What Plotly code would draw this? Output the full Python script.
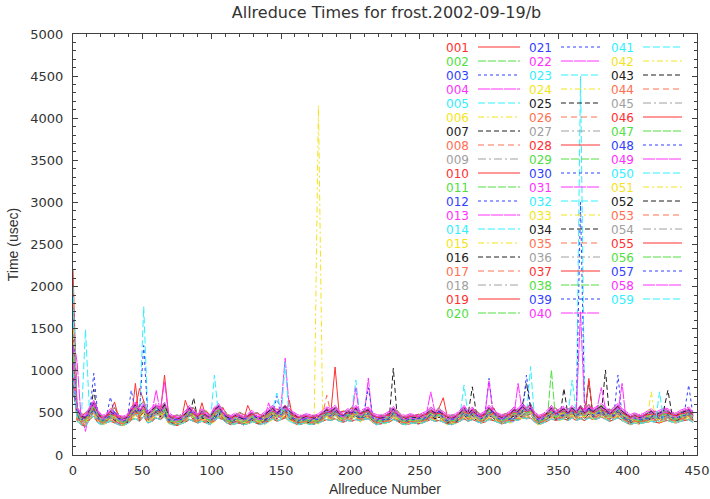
import plotly.graph_objects as go

# ---------------- data ----------------
# Allreduce numbers sampled every 3 steps
allreduce_number = list(range(0, 450, 3))

# three typical time profiles (usec) that the 59 processes follow
profile_a = [
    700, 520, 440, 430, 520, 600, 480, 420, 440, 500,
    460, 420, 410, 430, 520, 580, 500, 560, 470, 520,
    560, 500, 580, 450, 420, 410, 430, 470, 540, 470,
    440, 500, 450, 430, 520, 560, 480, 430, 420, 450,
    430, 410, 440, 480, 430, 420, 460, 500, 540, 480,
    520, 560, 500, 460, 430, 420, 440, 430, 420, 440,
    480, 520, 500, 540, 470, 450, 500, 480, 540, 470,
    500, 520, 450, 430, 420, 440, 470, 530, 460, 430,
    420, 440, 430, 420, 450, 470, 520, 480, 500, 460,
    430, 420, 440, 480, 540, 470, 520, 460, 440, 470,
    540, 490, 450, 430, 440, 470, 520, 500, 560, 520,
    540, 460, 420, 440, 480, 540, 470, 500, 530, 480,
    540, 490, 560, 480, 540, 500, 530, 560, 520, 470,
    520, 560, 500, 460, 430, 450, 430, 440, 470, 500,
    460, 480, 510, 500, 460, 450, 480, 500, 520, 460,
]
profile_b = [
    650, 470, 420, 460, 480, 540, 450, 410, 430, 470,
    520, 430, 400, 420, 480, 520, 530, 600, 440, 480,
    520, 540, 500, 420, 410, 430, 420, 450, 500, 520,
    430, 460, 480, 420, 440, 500, 520, 440, 410, 420,
    460, 440, 420, 430, 460, 440, 410, 440, 470, 500,
    480, 540, 460, 440, 410, 420, 430, 410, 430, 420,
    460, 500, 470, 520, 460, 480, 470, 520, 500, 440,
    480, 500, 440, 410, 430, 420, 440, 500, 480, 420,
    410, 430, 420, 440, 430, 450, 480, 460, 520, 440,
    410, 430, 420, 460, 500, 460, 500, 480, 430, 450,
    500, 520, 440, 420, 450, 430, 440, 500, 480, 520,
    560, 440, 410, 430, 460, 500, 520, 460, 480, 500,
    520, 470, 520, 500, 560, 470, 500, 520, 480, 500,
    470, 540, 460, 430, 410, 440, 420, 430, 440, 460,
    480, 440, 460, 480, 440, 440, 460, 470, 500, 440,
]
profile_c = [
    600, 440, 400, 380, 460, 500, 420, 400, 420, 440,
    420, 400, 390, 410, 450, 470, 440, 500, 420, 440,
    480, 460, 500, 420, 400, 390, 410, 430, 460, 440,
    420, 440, 420, 400, 460, 480, 460, 420, 400, 410,
    420, 400, 410, 440, 420, 400, 420, 450, 470, 440,
    460, 480, 440, 420, 400, 410, 420, 400, 410, 420,
    440, 460, 450, 470, 440, 430, 450, 440, 460, 450,
    460, 470, 430, 400, 410, 420, 430, 460, 440, 410,
    400, 410, 420, 410, 420, 440, 460, 440, 450, 430,
    410, 400, 420, 440, 470, 440, 460, 440, 420, 430,
    460, 450, 430, 410, 420, 440, 460, 450, 480, 470,
    480, 430, 400, 420, 440, 470, 450, 460, 470, 450,
    480, 450, 470, 450, 480, 460, 470, 490, 460, 440,
    460, 480, 450, 420, 400, 420, 410, 420, 430, 440,
    430, 420, 440, 450, 430, 420, 440, 450, 460, 430,
]

series_names = [f"{i:03d}" for i in range(1, 60)]
profile_of = "ABCACBBACC" "ABABCBCAAC" "BABCCBAABC" "BACACBBCAA" "BCACBCABAC" "BABCCABAC"
offsets = [
    0, -20, 40, -45, 20, 50, -30, 10, -40, 30,
    -10, 45, -50, 0, 20, -20, 40, 10, -35, 50,
    -10, 30, -45, 20, 0, 40, -30, 10, -20, 45,
    -40, 0, 30, -50, 20, -10, 40, -30, 10, 50,
    -45, 0, 20, -20, 45, -40, 30, -10, 0, 40,
    -50, 20, -30, 10, 45, -20, 0, 30, -40,
]
start_times = [
    2200, 1500, 1900, 1400, 2000, 1200, 1300, 1800, 1100, 1600,
    1000, 1600, 1300, 1700, 900, 1200, 1500, 1000, 1400, 1100,
    1300, 900, 1000, 1200, 800, 1100, 1000, 1300, 900, 1400,
    1000, 1200, 1500, 800, 1100, 900, 1000, 1200, 1300, 900,
    1100, 1000, 800, 1200, 900, 1000, 1100, 800, 1300, 900,
    1000, 1100, 900, 800, 1000, 1200, 900, 1100, 1000,
]
# isolated slow allreduce calls: series -> [(allreduce number, time)]
spikes = {
    "001": [(126, 590)],
    "003": [(300, 910)],
    "004": [(3, 1100), (213, 915)],
    "005": [(282, 830)],
    "006": [(177, 4150)],
    "007": [(354, 790)],
    "010": [(93, 620)],
    "012": [(213, 800), (444, 830)],
    "013": [(141, 620), (321, 850)],
    "014": [(9, 1490), (204, 890)],
    "016": [(15, 780), (372, 880)],
    "017": [(183, 710)],
    "019": [(81, 650), (372, 910)],
    "021": [(147, 700), (393, 950)],
    "022": [(9, 280), (258, 750)],
    "023": [(330, 1050)],
    "025": [(87, 680), (384, 1010)],
    "028": [(30, 630), (189, 1045)],
    "030": [(15, 970)],
    "031": [(204, 800), (396, 850)],
    "032": [(147, 735), (366, 4500)],
    "034": [(231, 1030)],
    "037": [(48, 790), (267, 680)],
    "038": [(345, 1010)],
    "039": [(27, 690), (366, 3000)],
    "040": [(153, 1150), (366, 1700)],
    "041": [(102, 950)],
    "042": [(417, 750)],
    "043": [(288, 810)],
    "046": [(45, 850), (156, 650)],
    "048": [(42, 770)],
    "049": [(60, 770), (300, 880)],
    "050": [(51, 1760), (360, 890)],
    "052": [(327, 850), (429, 770)],
    "055": [(66, 950)],
    "057": [(51, 1300), (327, 950)],
    "058": [(66, 870), (381, 800)],
    "059": [(153, 1100), (423, 750)],
}

x_ticks = [0, 50, 100, 150, 200, 250, 300, 350, 400, 450]
y_ticks = [0, 500, 1000, 1500, 2000, 2500, 3000, 3500, 4000, 4500, 5000]

# ---------------- styles ----------------
colors = ["#ff3030", "#50e040", "#3040ff", "#ff30ff", "#30f0ff",
          "#f4e41c", "#202020", "#ff7050", "#a0a0a0"]
dashes = ["solid", "8px,2px", "3px,3px", "12px,1px", "7px,3px",
          "6px,3px,2px,3px", "5px,3px", "6px,4px", "8px,3px,2px,3px"]

profiles = {"A": profile_a, "B": profile_b, "C": profile_c}
FONT = "Liberation Sans, Arial, Helvetica, sans-serif"
WIDE = "DejaVu Sans, Verdana, sans-serif"

fig = go.Figure()
for k, name in enumerate(series_names):
    prof = profiles[profile_of[k]]
    y = [v + offsets[k] for v in prof]
    y[0] = start_times[k]
    for xs, val in spikes.get(name, []):
        y[allreduce_number.index(xs)] = val
    fig.add_trace(go.Scatter(
        x=allreduce_number, y=y, mode="lines", name=name,
        line=dict(color=colors[k % 9], width=1, dash=dashes[k % 9]),
        showlegend=False,
    ))

# ---------------- layout ----------------
L, R, T, B = 73, 13, 34, 44
W, H = 710, 499
pw, ph = W - L - R, H - T - B


def px_x(p):
    return (p - L) / pw


def px_y(p):
    return (H - B - p) / ph


# gnuplot-style key: label then line sample, 3 columns x 20 rows
label_right = [470, 553, 635]
sample_span = [(478, 520), (561, 600), (643, 682)]
annotations = []
shapes = []
for k, name in enumerate(series_names):
    col, row = divmod(k, 20)
    ypx = 47 + 14 * row
    annotations.append(dict(
        x=px_x(label_right[col]), y=px_y(ypx), xref="paper", yref="paper",
        text=name, showarrow=False, xanchor="right", yanchor="middle",
        height=13, borderpad=0,
        font=dict(family=WIDE, size=12, color=colors[k % 9]),
    ))
    x0, x1 = sample_span[col]
    shapes.append(dict(
        type="line", xref="paper", yref="paper",
        x0=px_x(x0), x1=px_x(x1), y0=px_y(ypx), y1=px_y(ypx),
        line=dict(color=colors[k % 9], width=1, dash=dashes[k % 9]),
    ))

axis_common = dict(
    showline=True, linecolor="#404040", linewidth=1, mirror="allticks",
    ticks="inside", ticklen=5, tickcolor="#404040", showgrid=False,
    zeroline=False, automargin=False,
    tickfont=dict(family=WIDE, size=13, color="#333333"),
)

fig.update_layout(
    width=W, height=H,
    margin=dict(l=L, r=R, t=T, b=B),
    paper_bgcolor="white", plot_bgcolor="white",
    title=dict(text="Allreduce Times for frost.2002-09-19/b", x=px_x(386.5), xref="paper",
               xanchor="center", y=1 - 12 / H, yanchor="middle",
               font=dict(family=WIDE, size=16, color="#333333")),
    xaxis=dict(range=[0, 450], tickvals=x_ticks, ticklabeloverflow="allow",
               ticklabelstandoff=3,
               minor=dict(dtick=10, ticks="inside", ticklen=3, tickcolor="#404040"),
               title=dict(text="Allreduce Number", standoff=7,
                          font=dict(family=FONT, size=14, color="#333333")),
               **axis_common),
    yaxis=dict(range=[0, 5000], tickvals=y_ticks,
               minor=dict(dtick=100, ticks="inside", ticklen=3, tickcolor="#404040"),
               title=dict(text="Time (usec)", standoff=8,
                          font=dict(family=FONT, size=14, color="#333333")),
               ticklabelstandoff=6,
               **axis_common),
    annotations=annotations,
    shapes=shapes,
    showlegend=False,
)

fig.write_html("out.html")
